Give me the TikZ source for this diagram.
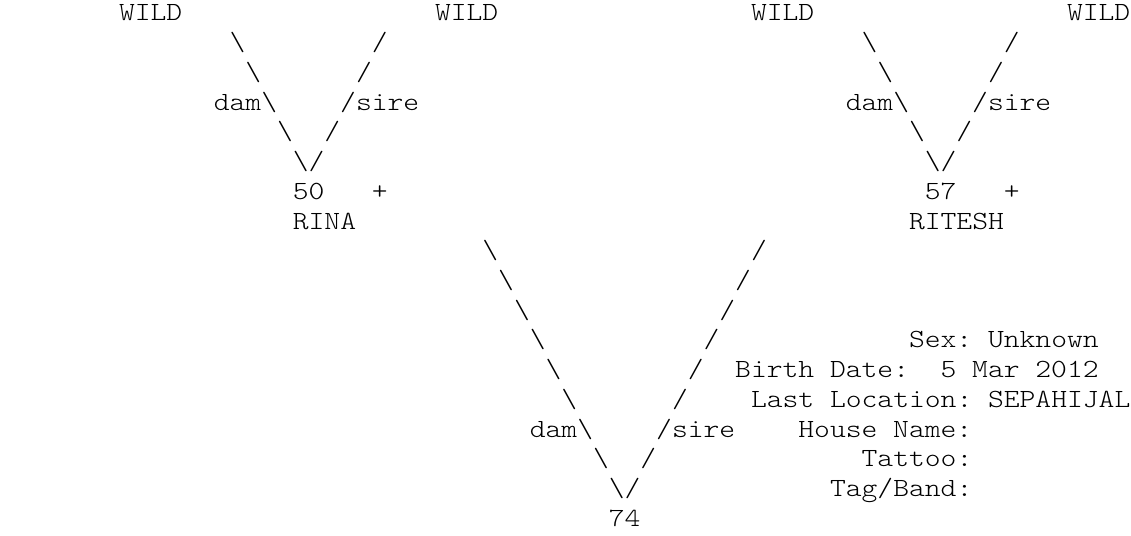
\documentclass[tikz,border=0pt]{standalone}
\usepackage{fontspec}
\newfontfamily\courlike[FakeStretch=1.15]{lmmonolt10-regular.otf}
\newcommand\pedtok[4]{\node[txt] (#1) at ({8.4+#2*15.8},{21+#3*29.72}) {#4};}
\newcommand\bs{\textbackslash}
\begin{document}
\begin{tikzpicture}[x=1pt,y=-1pt,
  txt/.style={anchor=base west, inner sep=0pt, outer sep=0pt, text=black,
              font=\courlike\fontsize{26.2}{29.72}\selectfont}]
\fill[white] (0,0) rectangle (1131,535);
\useasboundingbox (0,0) rectangle (1131,535);
% row 0
\pedtok{wA}{7}{0}{WILD}
\pedtok{wB}{27}{0}{WILD}
\pedtok{wC}{47}{0}{WILD}
\pedtok{wD}{67}{0}{WILD}
% left tree
\pedtok{la1}{14}{1}{\bs}
\pedtok{lb1}{23}{1}{/}
\pedtok{la2}{15}{2}{\bs}
\pedtok{lb2}{22}{2}{/}
\pedtok{la3}{13}{3}{dam\bs}
\pedtok{lb3}{21}{3}{/sire}
\pedtok{la4}{17}{4}{\bs}
\pedtok{lb4}{20}{4}{/}
\pedtok{lv}{18}{5}{\bs/}
\pedtok{lid}{18}{6}{50}
\pedtok{lplus}{23}{6}{+}
\pedtok{lname}{18}{7}{RINA}
% right tree
\pedtok{ra1}{54}{1}{\bs}
\pedtok{rb1}{63}{1}{/}
\pedtok{ra2}{55}{2}{\bs}
\pedtok{rb2}{62}{2}{/}
\pedtok{ra3}{53}{3}{dam\bs}
\pedtok{rb3}{61}{3}{/sire}
\pedtok{ra4}{57}{4}{\bs}
\pedtok{rb4}{60}{4}{/}
\pedtok{rv}{58}{5}{\bs/}
\pedtok{rid}{58}{6}{57}
\pedtok{rplus}{63}{6}{+}
\pedtok{rname}{57}{7}{RITESH}
% bottom tree
\pedtok{ba8}{30}{8}{\bs}
\pedtok{bb8}{47}{8}{/}
\pedtok{ba9}{31}{9}{\bs}
\pedtok{bb9}{46}{9}{/}
\pedtok{ba10}{32}{10}{\bs}
\pedtok{bb10}{45}{10}{/}
\pedtok{ba11}{33}{11}{\bs}
\pedtok{bb11}{44}{11}{/}
\pedtok{ba12}{34}{12}{\bs}
\pedtok{bb12}{43}{12}{/}
\pedtok{ba13}{35}{13}{\bs}
\pedtok{bb13}{42}{13}{/}
\pedtok{ba14}{33}{14}{dam\bs}
\pedtok{bb14}{41}{14}{/sire}
\pedtok{ba15}{37}{15}{\bs}
\pedtok{bb15}{40}{15}{/}
\pedtok{bv}{38}{16}{\bs/}
\pedtok{bid}{38}{17}{74}
% info block
\pedtok{sexL}{57}{11}{Sex:}
\pedtok{sexV}{62}{11}{Unknown}
\pedtok{bdL1}{46}{12}{Birth}
\pedtok{bdL2}{52}{12}{Date:}
\pedtok{bdV1}{59}{12}{5}
\pedtok{bdV2}{61}{12}{Mar}
\pedtok{bdV3}{65}{12}{2012}
\pedtok{llL1}{47}{13}{Last}
\pedtok{llL2}{52}{13}{Location:}
\pedtok{llV}{62}{13}{SEPAHIJAL}
\pedtok{hnL1}{50}{14}{House}
\pedtok{hnL2}{56}{14}{Name:}
\pedtok{ttL}{54}{15}{Tattoo:}
\pedtok{tbL}{52}{16}{Tag/Band:}
\end{tikzpicture}
\end{document}
